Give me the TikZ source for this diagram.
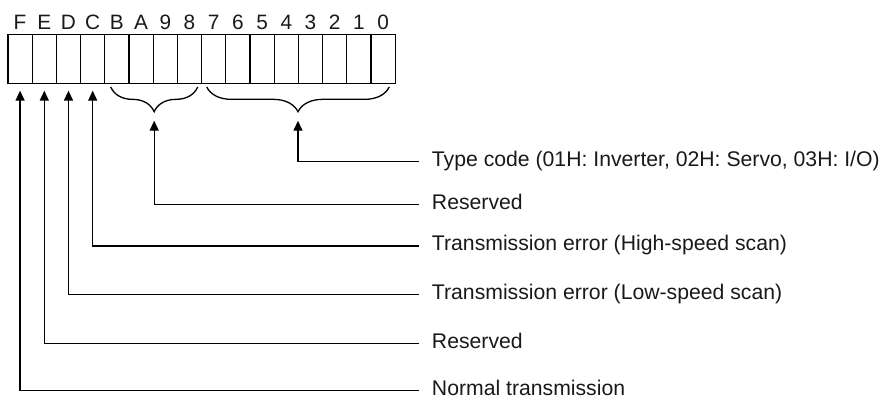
\documentclass[tikz,border=0pt]{standalone}
\usepackage{fontspec}
\setmainfont{Liberation Sans}
\usetikzlibrary{arrows.meta,decorations.pathreplacing,calc}

\begin{document}
\begin{tikzpicture}[
        x=0.5pt, y=0.5pt,
        line width=0.65pt,
        cell/.style={
            draw,
            rectangle,
            minimum width=12.1pt,
            minimum height=24.3pt,
            inner sep=0pt
        },
        bitlabel/.style={
            anchor=base,
            inner sep=0pt,
            font=\fontsize{10.4}{12}\selectfont,
            text=black!90
        },
        desc/.style={
            anchor=west,
            inner xsep=6pt,
            text height=0.75em,
            text depth=0.25em,
            font=\fontsize{10.6}{12}\selectfont,
            text=black!90
        },
        arrow/.style={
            -{Triangle[length=5pt,width=4.5pt]}
        },
        grp/.style={
            decorate,
            decoration={brace, mirror, amplitude=12.35pt}
        }
    ]
        \useasboundingbox (0,0) rectangle (886,399);
        % register bits F..0
        \foreach \b [count=\i from 0] in {F,E,D,C,B,A,9,8,7,6,5,4,3,2,1,0} {
            \node[cell] (c\b) at (20.1+24.2*\i, 340) {};
            \node[bitlabel] (l\b) at ([yshift=2.35pt]c\b.north) {\b};
        }
        % groups
        \draw[grp] (110.7,312) -- (197.7,312);
        \draw[grp] (206.7,312) -- (389.3,312);
        \coordinate (resv) at (154.2,278.3);
        \coordinate (type) at (298,278.3);
        % descriptions
        \node[desc] (tcode) at (419.3,237.3) {Type code (01H: Inverter, 02H: Servo, 03H: I/O)};
        \node[desc] (res1) at (419.3,194.7) {Reserved};
        \node[desc] (hs) at (419.3,153) {Transmission error (High-speed scan)};
        \node[desc] (ls) at (419.3,104.7) {Transmission error (Low-speed scan)};
        \node[desc] (res2) at (419.3,55.7) {Reserved};
        \node[desc] (norm) at (419.3,8.7) {Normal transmission};
        % connectors
        \draw[arrow] (tcode.west) -| (type);
        \draw[arrow] (res1.west) -| (resv);
        \draw[arrow] (hs.west) -| ([yshift=-3.35pt]cC.south);
        \draw[arrow] (ls.west) -| ([yshift=-3.35pt]cD.south);
        \draw[arrow] (res2.west) -| ([yshift=-3.35pt]cE.south);
        \draw[arrow] (norm.west) -| ([yshift=-3.35pt]cF.south);
    \end{tikzpicture}
\end{document}
